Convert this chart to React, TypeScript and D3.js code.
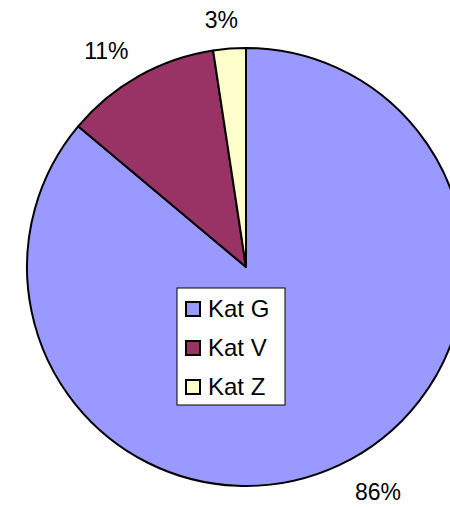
import * as d3 from "d3";
import { useEffect, useRef } from "react";

const categories = ["Kat G", "Kat V", "Kat Z"];
const values = [86.1, 11.5, 2.4];
const labels = ["86%", "11%", "3%"];
const colors = ["#9999FF", "#993366", "#FFFFCC"];

const App: React.FC = () => {
  const ref = useRef<SVGSVGElement>(null);

  const width = 450;
  const height = 507;
  const cx = 246;
  const cy = 267;
  const radius = 219;
  const labelRadius = 248;

  useEffect(() => {
    if (!ref.current) return;
    const svg = d3.select(ref.current);
    svg.selectAll("*").remove();

    const data = categories.map((c, i) => ({ name: c, value: values[i], label: labels[i], color: colors[i] }));

    const pie = d3
      .pie<{ name: string; value: number }>()
      .sort(null)
      .value((d) => d.value)
      .startAngle(0)
      .endAngle(2 * Math.PI);

    const arcs = pie(data);

    const arc = d3
      .arc<d3.PieArcDatum<{ name: string; value: number }>>()
      .innerRadius(0)
      .outerRadius(radius);

    const g = svg.append("g").attr("transform", `translate(${cx},${cy})`);

    g.selectAll("path")
      .data(arcs)
      .enter()
      .append("path")
      .attr("d", arc)
      .attr("fill", (_d, i) => colors[i])
      .attr("stroke", "#000")
      .attr("stroke-width", 2)
      .attr("stroke-linejoin", "round");

    // percent labels outside the slices
    g.selectAll("text.pct")
      .data(arcs)
      .enter()
      .append("text")
      .attr("class", "pct")
      .each(function (d, i) {
        const mid = (d.startAngle + d.endAngle) / 2;
        const x = labelRadius * Math.sin(mid);
        const y = -labelRadius * Math.cos(mid);
        const anchor = Math.abs(x) < 0.2 * labelRadius ? "middle" : x > 0 ? "start" : "end";
        d3.select(this)
          .attr("x", x + (anchor === "middle" ? -6 : anchor === "end" ? 4 : 4))
          .attr("y", y)
          .attr("dy", "0.35em")
          .attr("text-anchor", anchor)
          .text(labels[i]);
      })
      .style("font-family", "'Liberation Sans', Arial, sans-serif")
      .style("font-size", "23px")
      .style("fill", "#000");

    // legend
    const legend = svg.append("g").attr("transform", "translate(177,288)");
    legend
      .append("rect")
      .attr("x", 0)
      .attr("y", 0)
      .attr("width", 108)
      .attr("height", 117)
      .attr("fill", "#fff")
      .attr("stroke", "#000")
      .attr("stroke-width", 1);

    const rowY = d3.scalePoint<string>().domain(categories).range([29, 107]);

    const rows = legend
      .selectAll("g.row")
      .data(data)
      .enter()
      .append("g")
      .attr("class", "row")
      .attr("transform", (d) => `translate(0,${rowY(d.name)})`);

    rows
      .append("rect")
      .attr("x", 9)
      .attr("y", -15)
      .attr("width", 14)
      .attr("height", 14)
      .attr("fill", (d) => d.color)
      .attr("stroke", "#000")
      .attr("stroke-width", 2);

    rows
      .append("text")
      .attr("x", 31)
      .attr("y", 0)
      .text((d) => d.name)
      .style("font-family", "'Liberation Sans', Arial, sans-serif")
      .style("font-size", "24px")
      .style("fill", "#000");
  }, []);

  return (
    <svg
      ref={ref}
      width={width}
      height={height}
      style={{ position: "absolute", left: 0, top: 0, background: "#fff" }}
    ></svg>
  );
};

export default App;
